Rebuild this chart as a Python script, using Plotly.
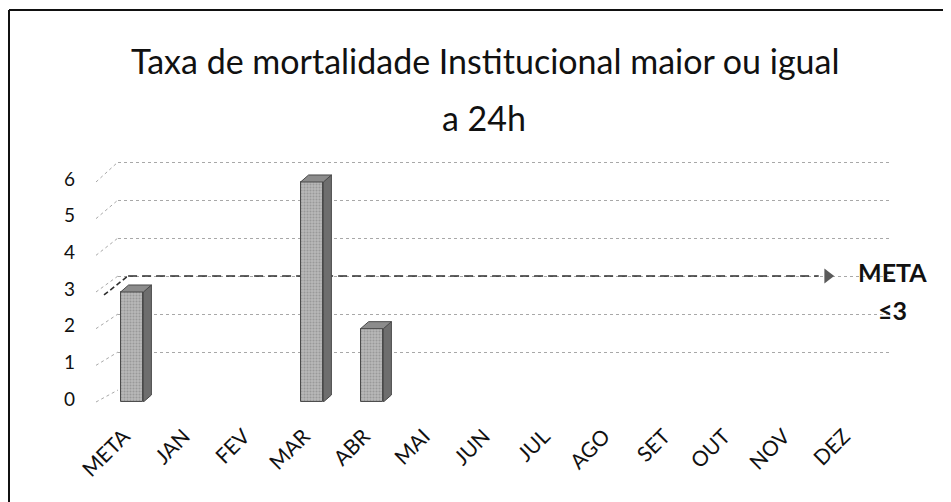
import plotly.graph_objects as go

# ---------------- data ----------------
categories = ["META", "JAN", "FEV", "MAR", "ABR", "MAI", "JUN",
              "JUL", "AGO", "SET", "OUT", "NOV", "DEZ"]
values = [3, None, None, 6, 2, None, None, None, None, None, None, None, None]
meta_value = 3
y_ticks = [0, 1, 2, 3, 4, 5, 6]
title_line1 = "Taxa de mortalidade Institucional maior ou igual"
title_line2 = "a 24h"
meta_label = "META"
meta_cond = "≤3"

# ---------------- layout constants (window pixels) ----------------
WIN_W, WIN_H = 951, 502
OFF = 8                      # page body margin
PL, PR = 102, 900
PT, PB = 160, 402
FRONT_X = (102, 882)
BACK_X = (118, 890)
FRONT_Y0, FRONT_UNIT, FRONT_YMAX = 402, 36.67, 6.3
BACK_Y0, BACK_UNIT, BACK_YMAX = 390, 38.0, 6.05
pw, ph = PR - PL, PB - PT


def fx(px):
    return (px - PL) / pw


def fy(py):
    return (PB - py) / ph


FONT = "Lato"
BAR_W = 0.38
DX = 8 / 60.0
DY = 7 / FRONT_UNIT

positions = list(range(len(categories)))
bar_x = [p for p, v in zip(positions, values) if v is not None]
bar_y = [v for v in values if v is not None]

fig = go.Figure()

# META dashed line on back wall
meta_x = [-0.33, 11.3]
fig.add_trace(go.Scatter(
    x=meta_x, y=[meta_value, meta_value], mode="lines",
    line=dict(color="#2e2e2e", width=1.6, dash="9px,5px"),
    xaxis="x", yaxis="y", hoverinfo="skip", showlegend=False))
fig.add_trace(go.Scatter(
    x=[11.45], y=[meta_value], mode="markers",
    marker=dict(symbol="triangle-right", size=13, color="#5a5a5a"),
    xaxis="x", yaxis="y", hoverinfo="skip", showlegend=False))

# 3D side and top faces of bars
for c, v in zip(bar_x, bar_y):
    w = BAR_W / 2
    fig.add_trace(go.Scatter(
        x=[c + w, c + w + DX, c + w + DX, c + w, c + w],
        y=[0, DY, v + DY, v, 0],
        mode="lines", fill="toself", fillcolor="#6e6e6e",
        line=dict(color="#4a4a4a", width=1),
        xaxis="x2", yaxis="y2", hoverinfo="skip", showlegend=False))
    fig.add_trace(go.Scatter(
        x=[c - w, c + w, c + w + DX, c - w + DX, c - w],
        y=[v, v, v + DY, v + DY, v],
        mode="lines", fill="toself", fillcolor="#8c8c8c",
        line=dict(color="#4a4a4a", width=1),
        xaxis="x2", yaxis="y2", hoverinfo="skip", showlegend=False))

# front faces
fig.add_trace(go.Bar(
    x=bar_x, y=bar_y, width=BAR_W,
    marker=dict(color="#b0b0b0", line=dict(color="#4a4a4a", width=1),
                pattern=dict(shape=".", fgcolor="#7a7a7a", bgcolor="#b8b8b8",
                             size=3, solidity=0.35)),
    xaxis="x2", yaxis="y2", hoverinfo="skip", showlegend=False))

shapes = []
# side-wall diagonal dotted lines (front tick level -> back gridline)
for k in y_ticks:
    y_front = FRONT_Y0 - k * FRONT_UNIT
    y_back = BACK_Y0 - k * BACK_UNIT
    shapes.append(dict(
        type="line", xref="paper", yref="paper",
        x0=fx(96), x1=fx(118), y0=fy(y_front), y1=fy(y_back),
        line=dict(color="#a8a8a8", width=1, dash="dot")))
# diagonal part of META line
shapes.append(dict(
    type="line", xref="paper", yref="paper",
    x0=fx(104), x1=fx(128),
    y0=fy(FRONT_Y0 - meta_value * FRONT_UNIT + 3),
    y1=fy(BACK_Y0 - meta_value * BACK_UNIT),
    line=dict(color="#2e2e2e", width=1.6, dash="5px,3px")))
# outer frame (left and top)
shapes.append(dict(type="line", xref="paper", yref="paper",
                   x0=fx(9), x1=fx(9), y0=fy(10), y1=fy(510),
                   line=dict(color="#111111", width=2)))
shapes.append(dict(type="line", xref="paper", yref="paper",
                   x0=fx(9), x1=fx(960), y0=fy(10), y1=fy(10),
                   line=dict(color="#111111", width=2)))

annotations = [
    dict(text=title_line1, xref="paper", yref="paper", x=fx(485), y=fy(60),
         xanchor="center", yanchor="middle", showarrow=False,
         font=dict(family=FONT, size=34, color="#111111")),
    dict(text=title_line2, xref="paper", yref="paper", x=fx(484), y=fy(118),
         xanchor="center", yanchor="middle", showarrow=False,
         font=dict(family=FONT, size=34, color="#111111")),
    dict(text="<b>%s</b>" % meta_label, xref="paper", yref="paper", x=fx(892), y=fy(272),
         xanchor="center", yanchor="middle", showarrow=False,
         font=dict(family=FONT, size=25, color="#111111")),
    dict(text="<b>%s</b>" % meta_cond, xref="paper", yref="paper", x=fx(892), y=fy(310),
         xanchor="center", yanchor="middle", showarrow=False,
         font=dict(family=FONT, size=25, color="#111111")),
]

fig.update_layout(
    width=WIN_W - OFF, height=WIN_H - OFF,
    margin=dict(l=PL - OFF, r=WIN_W - PR, t=PT - OFF, b=WIN_H - PB, pad=0),
    paper_bgcolor="white", plot_bgcolor="rgba(0,0,0,0)",
    showlegend=False,
    font=dict(family=FONT, color="#111111"),
    xaxis=dict(domain=[fx(BACK_X[0]), fx(BACK_X[1])], range=[-0.5, 12.5],
               showticklabels=False, showgrid=False, zeroline=False,
               showline=False, anchor="y", fixedrange=True),
    yaxis=dict(domain=[fy(BACK_Y0), min(1.0, fy(BACK_Y0 - BACK_YMAX * BACK_UNIT))],
               range=[0, BACK_YMAX], tickvals=y_ticks, showticklabels=False,
               showgrid=True, gridcolor="#a8a8a8", griddash="dot", gridwidth=1,
               zeroline=False, showline=False, anchor="x", fixedrange=True),
    xaxis2=dict(domain=[fx(FRONT_X[0]), fx(FRONT_X[1])], range=[-0.5, 12.5],
                tickvals=positions, ticktext=categories, tickangle=-45,
                tickfont=dict(family=FONT, size=21, color="#111111"),
                ticks="", ticklabelstandoff=17, ticklabelshift=-8,
                showgrid=False, zeroline=False, showline=False,
                anchor="y2", fixedrange=True),
    yaxis2=dict(domain=[fy(FRONT_Y0), fy(FRONT_Y0 - FRONT_YMAX * FRONT_UNIT)],
                range=[0, FRONT_YMAX], tickvals=y_ticks,
                tickfont=dict(family=FONT, size=19, color="#111111"),
                ticks="", ticklabelstandoff=26, ticklabelshift=-3,
                showgrid=False, zeroline=False, showline=False,
                anchor="x2", fixedrange=True),
    shapes=shapes,
    annotations=annotations,
    bargap=0,
)

fig.write_html("out.html")
